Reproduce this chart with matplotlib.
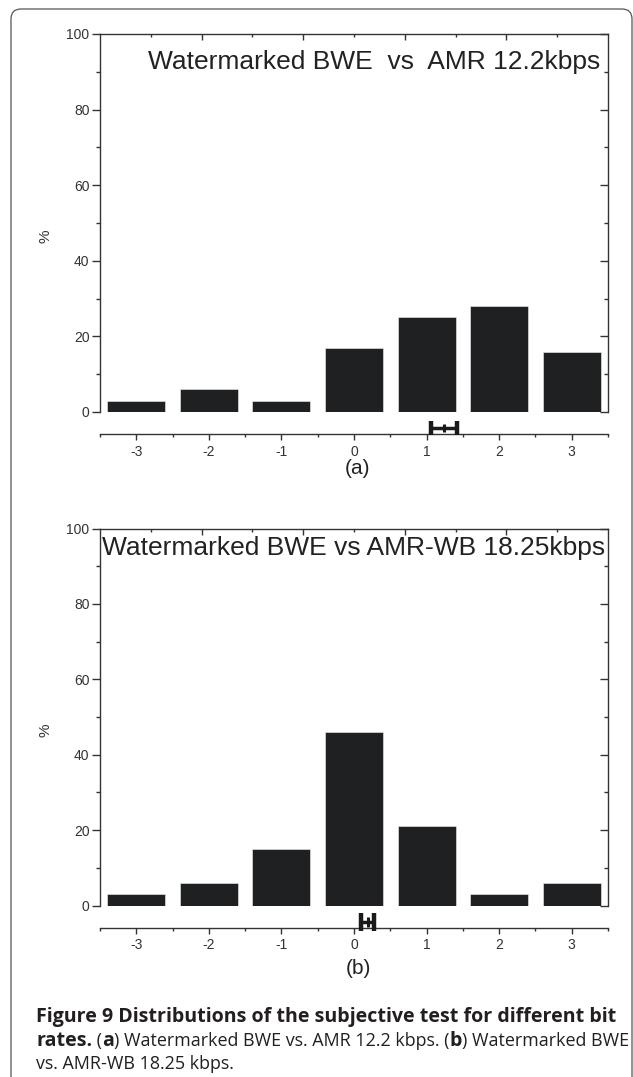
import matplotlib
matplotlib.use("Agg")
import matplotlib.pyplot as plt
from matplotlib.patches import FancyBboxPatch
from matplotlib.ticker import MultipleLocator, FixedLocator, NullFormatter
import matplotlib.lines as mlines

# ---------------- data ----------------
scores = [-3, -2, -1, 0, 1, 2, 3]
pct_a = [3, 6, 3, 17, 25, 28, 16]
pct_b = [3, 6, 15, 46, 21, 3, 6]
mean_a, ci_a = 1.24, 0.18
mean_b, ci_b = 0.19, 0.09
title_a = "Watermarked BWE  vs  AMR 12.2kbps"
title_b = "Watermarked BWE vs AMR-WB 18.25kbps"
yticks = [0, 20, 40, 60, 80, 100]
panel_labels = ["(a)", "(b)"]

W, H = 633, 1077
plt.rcParams['font.family'] = ['Liberation Sans', 'DejaVu Sans']
fig = plt.figure(figsize=(W / 100, H / 100), dpi=100)

SP = '#333333'
BAR = '#1f2022'


def px_rect(left, top, right, bottom):
    return [left / W, 1 - bottom / H, (right - left) / W, (bottom - top) / H]


def make_panel(rect, values, title, mean, ci, capsize, title_x, title_y):
    ax = fig.add_axes(rect)
    ax.bar(scores, values, width=0.8, color=BAR, edgecolor='#f0f0f0', linewidth=0.4, zorder=2)
    ax.set_xlim(-3.5, 3.5)
    ax.set_ylim(0, 100)
    for s in ax.spines.values():
        s.set_color(SP)
        s.set_linewidth(1.0)
    ax.spines['bottom'].set_position(('outward', 16))
    ax.set_xticks(scores)
    ax.set_xticklabels([str(s) for s in scores])
    ax.xaxis.set_minor_locator(FixedLocator([-3.5, -2.5, -1.5, -0.5, 0.5, 1.5, 2.5, 3.5]))
    ax.set_yticks(yticks)
    ax.set_yticklabels([str(v) for v in yticks])
    ax.yaxis.set_minor_locator(MultipleLocator(10))
    ax.tick_params(axis='x', which='major', direction='out', length=4.5, width=1.0,
                   color=SP, labelsize=10, labelcolor='#333333', pad=3.2)
    ax.tick_params(axis='x', which='minor', direction='out', length=2.4, width=1.0, color=SP)
    ax.tick_params(axis='y', which='major', direction='out', length=6, width=1.0,
                   color=SP, labelsize=10, labelcolor='#333333', pad=1.5, right=True)
    ax.tick_params(axis='y', which='minor', direction='out', length=3, width=1.0,
                   color=SP, right=True)
    ax.set_ylabel('%', fontsize=11, color='#333333')
    ax.yaxis.set_label_coords(-0.094, 0.466)

    # right-side ticks point inward
    for t in ax.yaxis.get_major_ticks() + ax.yaxis.get_minor_ticks():
        t.tick2line.set_marker(mlines.TICKLEFT)

    # top axis with its own tick spacing
    top = ax.twiny()
    top.set_xlim(0, 10)
    top.set_xticks([2, 4, 6, 8])
    top.xaxis.set_minor_locator(FixedLocator([1, 3, 5, 7, 9]))
    top.xaxis.set_major_formatter(NullFormatter())
    top.tick_params(axis='x', which='major', direction='in', length=4.5, width=1.0, color=SP)
    top.tick_params(axis='x', which='minor', direction='in', length=2.2, width=1.0, color=SP)
    for s in top.spines.values():
        s.set_visible(False)

    # mean with confidence interval on the x-axis line
    ax.errorbar([mean], [-4.25], xerr=[ci], fmt='none', ecolor='#1a1a1a',
                elinewidth=2.5, capsize=capsize, capthick=3.2, clip_on=False, zorder=5)
    ax.plot([mean], [-4.25], marker='|', markersize=capsize * 1.1, mew=2.2, color='#1a1a1a',
            clip_on=False, zorder=6)

    ax.text(title_x, title_y, title, transform=ax.transAxes, ha='right', va='center',
            fontsize=19, color='#222222')
    return ax


ax_a = make_panel(px_rect(100, 34, 608, 412), pct_a, title_a, mean_a, ci_a, 5, 0.985, 0.925)
ax_b = make_panel(px_rect(100, 528.5, 608, 905.5), pct_b, title_b, mean_b, ci_b, 6.5, 0.995, 0.949)

fig.text(358 / W, 1 - 468 / H, panel_labels[0], ha='center', va='center', fontsize=15, color='#222222')
fig.text(358 / W, 1 - 969 / H, panel_labels[1], ha='center', va='center', fontsize=15, color='#222222')

# frame
frame = FancyBboxPatch((0.11, -0.5), 6.21, 10.68 + 0.5, boxstyle="round,pad=0,rounding_size=0.1",
                       transform=fig.dpi_scale_trans, fill=False, edgecolor='#555555',
                       linewidth=0.9)
fig.add_artist(frame)

# caption with mixed bold / regular runs
cap_font = ['Open Sans', 'DejaVu Sans']
cap_color = '#231f20'
lines = [
    (1022, [("Figure 9 Distributions of the subjective test for different bit", 'bold')]),
    (1046, [("rates.", 'bold'), (" (", 'normal'), ("a", 'bold'),
            (") Watermarked BWE vs. AMR 12.2 kbps. (", 'normal'), ("b", 'bold'),
            (") Watermarked BWE", 'normal')]),
    (1069, [("vs. AMR-WB 18.25 kbps.", 'normal')]),
]
X0 = 36.0
fig.canvas.draw()
renderer = fig.canvas.get_renderer()


def width_of(s, wt, size):
    t = fig.text(0, 0, s, family=cap_font, fontsize=size, fontweight=wt)
    w = t.get_window_extent(renderer).width
    t.remove()
    return w


# fit bold size to line 1 width, regular size to line 2 width
bsize = 13.0 * 574.0 / width_of(lines[0][1][0][0], 'bold', 13.0)
bold_w2 = sum(width_of(s, wt, bsize) for s, wt in lines[1][1] if wt == 'bold')
reg_w2 = sum(width_of(s, wt, 13.0) for s, wt in lines[1][1] if wt == 'normal')
rsize = 13.0 * (593.0 - bold_w2) / reg_w2
sizes = {'bold': bsize, 'normal': rsize}

for ybase, runs in lines:
    x = X0
    for s, wt in runs:
        t = fig.text(x / W, 1 - ybase / H, s, ha='left', va='baseline', family=cap_font,
                     fontsize=sizes[wt], fontweight=wt, color=cap_color)
        bb = t.get_window_extent(renderer)
        x = bb.x1

fig.savefig('out.png', dpi=100)
